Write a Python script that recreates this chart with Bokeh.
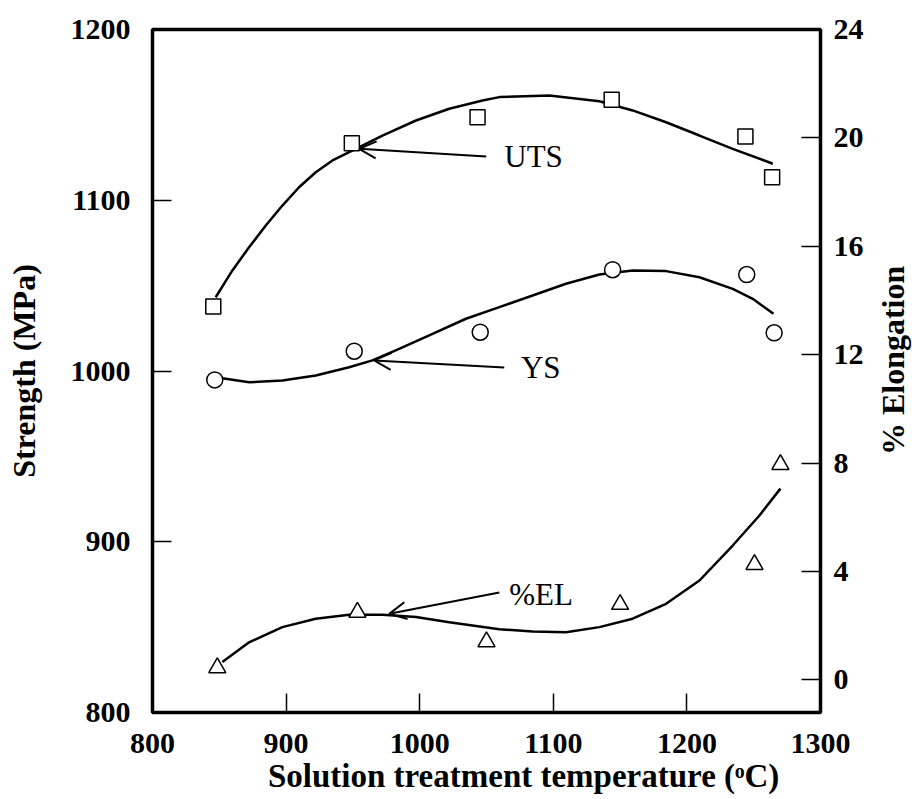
import math
from bokeh.plotting import figure
from bokeh.models import Range1d, LinearAxis, FixedTicker, Label, Arrow, OpenHead
from bokeh.embed import file_html
from bokeh.resources import INLINE

# ---- measured data points ----
temp_uts = [845.5, 949.2, 1043.3, 1143.7, 1243.8, 1263.8]
uts = [1037.8, 1133.4, 1148.6, 1158.8, 1137.3, 1113.5]
temp_ys = [846.6, 951.0, 1045.3, 1144.4, 1244.8, 1265.3]
ys = [994.8, 1011.6, 1022.7, 1059.3, 1056.5, 1022.4]
temp_el = [848.5, 953.4, 1050.0, 1150.0, 1250.6, 1270.0]
el = [0.45, 2.5, 1.41, 2.79, 4.26, 7.95]

# ---- fitted curves ----
uts_fit_t = [847.3, 859.8, 872.3, 884.8, 897.2, 909.7, 922.2, 934.7, 952.2, 972.1, 997.2,
             1022.1, 1047.0, 1059.6, 1097.0, 1134.5, 1159.4, 1184.4, 1209.4, 1234.3, 1264.3]
uts_fit = [1043.2, 1058.9, 1072.5, 1085.2, 1096.9, 1107.6, 1116.4, 1123.3, 1130.1, 1137.9, 1146.7,
           1153.6, 1158.4, 1160.4, 1161.4, 1158.0, 1152.6, 1145.7, 1137.9, 1130.1, 1121.4]
ys_fit_t = [852.3, 872.3, 897.2, 922.2, 947.2, 964.6, 984.6, 1009.6, 1034.6, 1059.6, 1084.5,
            1109.5, 1134.5, 1159.4, 1184.4, 1209.4, 1234.3, 1249.3, 1264.8]
ys_fit = [995.8, 993.4, 994.4, 997.4, 1002.2, 1006.2, 1013.0, 1021.8, 1030.6, 1037.4, 1044.2,
          1051.1, 1056.5, 1058.9, 1058.5, 1054.9, 1048.1, 1042.3, 1033.5]
el_fit_t = [852.3, 872.3, 897.2, 922.2, 947.2, 972.1, 997.2, 1022.1, 1059.6, 1084.5, 1109.5,
            1134.5, 1159.4, 1184.4, 1209.4, 1234.3, 1254.3, 1270.0]
el_fit = [0.66, 1.39, 1.95, 2.26, 2.41, 2.41, 2.32, 2.13, 1.87, 1.79, 1.76,
          1.95, 2.26, 2.81, 3.67, 4.96, 6.07, 7.06]

# ---- ticks ----
x_ticks = [800, 900, 1000, 1100, 1200, 1300]
strength_ticks = [800, 900, 1000, 1100, 1200]
el_ticks = [0, 4, 8, 12, 16, 20, 24]

# ---- annotation anchors (data units) ----
series_names = ["UTS", "YS", "%EL"]
name_x = [1063.3, 1075.8, 1067.0]
name_y = [1125.6, 1002.0, 3.15]
arrow_x0 = [1049.8, 1063.3, 1059.6]
arrow_y0 = [1125.6, 1002.0, 3.23]
arrow_x1 = [954.7, 965.9, 977.2]
arrow_y1 = [1130.1, 1006.2, 2.44]
right_title_xy = [1353.9, 1006.2]

FONT = "Liberation Serif"
NB = "\u00a0"

p = figure(width=912, height=798, output_backend="svg", toolbar_location=None,
           x_range=Range1d(800, 1300), y_range=Range1d(800, 1200),
           min_border_left=152, min_border_right=92, min_border_top=29, min_border_bottom=86)
p.extra_y_ranges = {"el": Range1d(-1.2, 24)}
p.grid.visible = False
p.background_fill_color = "white"
p.border_fill_color = "white"
p.outline_line_color = "black"
p.outline_line_width = 3.5

right = LinearAxis(y_range_name="el")
p.add_layout(right, "right")

for ax in [p.xaxis[0], p.yaxis[0], right]:
    ax.axis_line_color = None
    ax.major_tick_out = 0
    ax.major_tick_in = 19
    ax.major_tick_line_width = 1.5
    ax.major_tick_line_color = "black"
    ax.minor_tick_line_color = None
    ax.major_label_text_font = FONT
    ax.major_label_text_font_style = "bold"
    ax.major_label_text_font_size = "30px"
    ax.major_label_text_color = "black"
    ax.axis_label_text_font = FONT
    ax.axis_label_text_font_style = "bold"
    ax.axis_label_text_font_size = "32px"
    ax.axis_label_text_color = "black"

p.xaxis[0].ticker = FixedTicker(ticks=x_ticks)
p.yaxis[0].ticker = FixedTicker(ticks=strength_ticks)
right.ticker = FixedTicker(ticks=el_ticks)
p.xaxis[0].major_label_standoff = 21
p.yaxis[0].major_label_standoff = 22
right.major_label_standoff = 13

p.xaxis[0].axis_label = NB * 9 + "Solution treatment temperature (\u1d52C)"
p.xaxis[0].axis_label_text_font_size = "33px"
p.xaxis[0].axis_label_standoff = 2
p.yaxis[0].axis_label = "Strength (MPa)"
p.yaxis[0].axis_label_standoff = 26

# right-hand title, reading bottom to top, kept in the right side panel (not clipped)
p.add_layout(Label(x=right_title_xy[0], y=right_title_xy[1], text="% Elongation", angle=math.pi / 2,
                   text_font=FONT, text_font_style="bold", text_font_size="32px", text_color="black",
                   text_align="center", text_baseline="middle"), "right")

# curves
p.line(uts_fit_t, uts_fit, line_color="black", line_width=2.5)
p.line(ys_fit_t, ys_fit, line_color="black", line_width=2.5)
p.line(el_fit_t, el_fit, line_color="black", line_width=2.5, y_range_name="el")

# markers
p.scatter(temp_uts, uts, marker="square", size=15, fill_color="white", line_color="black", line_width=1.5)
p.scatter(temp_ys, ys, marker="circle", size=16, fill_color="white", line_color="black", line_width=1.5)
p.scatter(temp_el, el, marker="triangle", size=17, fill_color="white", line_color="black",
          line_width=1.5, y_range_name="el")

# arrows and series names
for i, name in enumerate(series_names):
    rng = "el" if name == "%EL" else "default"
    p.add_layout(Arrow(x_start=arrow_x0[i], y_start=arrow_y0[i], x_end=arrow_x1[i], y_end=arrow_y1[i],
                       line_width=2, line_color="black", y_range_name=rng,
                       end=OpenHead(size=17, line_width=2, line_color="black")))
    p.add_layout(Label(x=name_x[i], y=name_y[i], text=name, y_range_name=rng,
                       text_font=FONT, text_font_size="31px", text_color="black",
                       text_align="left", text_baseline="middle"))

open("out.html", "w").write(file_html(p, INLINE))
